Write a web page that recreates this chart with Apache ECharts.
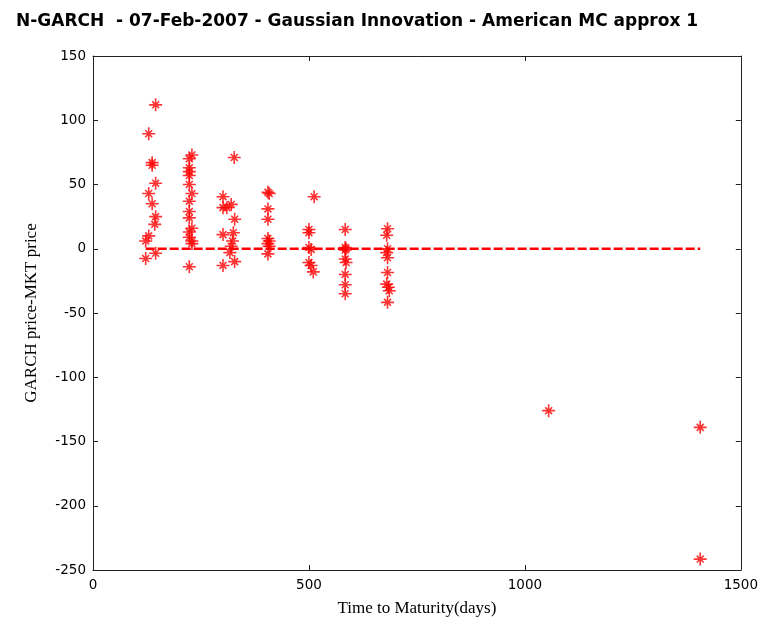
<!DOCTYPE html>
<html><head><meta charset="utf-8">
<script src="https://cdn.jsdelivr.net/npm/echarts@6/dist/echarts.min.js"></script>
<style>html,body{margin:0;padding:0;background:#fff}#c{width:761px;height:622px}</style>
</head><body><div id="c"></div>
<script>
// Time to maturity (days) and GARCH price - MKT price, per maturity cluster
const g1Days = [145,129,137,137,145,129,137,145,143,129,122,122,145];
const g1Vals = [112,89.5,67,65,51,43,35,25,19,10,6,-7.6,-3.5];
const g2Days = [229,223,223,223,223,223,229,223,223,223,229,223,223,229,229,223];
const g2Vals = [73,70,63,60,57,50,43,37,29,24,16,13,9,6,4,-14];
const g3Days = [327,301,301,310,320,328,301,325,323,320,317,328,301];
const g3Vals = [71,40.5,32,32,34.5,23,11,12.5,6,2,-3,-10,-13];
const g4Days = [405,408,405,405,405,408,405,408,405];
const g4Vals = [44,43,31,23,8,6,4,2,-4];
const g5Days = [512,500,500,500,505,500,505,510];
const g5Vals = [40.5,15,12.5,1,-0.5,-10.7,-13,-18];
const g6Days = [584,584,586,584,584,586,584,584,584];
const g6Vals = [15,1,0,-1,-8,-10.7,-20,-28,-35];
const g7Days = [682,680,682,680,682,682,680,684,686,682];
const g7Vals = [15.6,10.5,0,-3,-7,-18.5,-27.5,-30,-32.7,-41.7];
const outDays = [1055,1406,1406];
const outVals = [-126,-139,-241.5];
const zeroLineDays = [122,1406];
const zeroLineVals = [0,0];
const xTicks = {min:0,max:1500,interval:500};
const yTicks = {min:-250,max:150,interval:50};

const allDays = [].concat(g1Days,g2Days,g3Days,g4Days,g5Days,g6Days,g7Days,outDays);
const allVals = [].concat(g1Vals,g2Vals,g3Vals,g4Vals,g5Vals,g6Vals,g7Vals,outVals);
const pts = allDays.map((d,i)=>[d,allVals[i]]);
const linePts = zeroLineDays.map((d,i)=>[d,zeroLineVals[i]]);

const star = 'path://M0,-6L0,6M-6,0L6,0M-3.2,-3.2L3.2,3.2M-3.2,3.2L3.2,-3.2';
const axCol = '#222';
const tickLbl = {color:'#000',fontFamily:'DejaVu Sans',fontSize:13.5,formatter:v=>String(v)};
function xa(pos,show){return {type:'value',position:pos,min:xTicks.min,max:xTicks.max,interval:xTicks.interval,
  axisLine:{show:true,onZero:false,lineStyle:{color:axCol,width:1}},
  axisTick:{show:true,inside:true,length:5,lineStyle:{color:axCol}},
  axisLabel:Object.assign({show:show,margin:8},tickLbl),splitLine:{show:false},
  name:show?'Time to Maturity(days)':'',nameLocation:'middle',nameGap:30,
  nameTextStyle:{fontFamily:'Liberation Serif',fontSize:17,color:'#000'}};}
function ya(pos,show){return {type:'value',position:pos,min:yTicks.min,max:yTicks.max,interval:yTicks.interval,
  axisLine:{show:true,onZero:false,lineStyle:{color:axCol,width:1}},
  axisTick:{show:true,inside:true,length:5,lineStyle:{color:axCol}},
  axisLabel:Object.assign({show:show,margin:7},tickLbl),splitLine:{show:false},
  name:show?'GARCH price-MKT price':'',nameLocation:'middle',nameGap:53,
  nameTextStyle:{fontFamily:'Liberation Serif',fontSize:17,color:'#000'}};}

const chart = echarts.init(document.getElementById('c'),null,{renderer:'canvas'});
chart.setOption({
  animation:false,
  title:{text:'N-GARCH  - 07-Feb-2007 - Gaussian Innovation - American MC approx 1',left:11,top:8,
    textStyle:{fontFamily:'DejaVu Sans',fontWeight:'bold',fontSize:17,color:'#000'}},
  grid:{left:93,right:16,top:56,bottom:50,show:false},
  xAxis:[xa('bottom',true),xa('top',false)],
  yAxis:[ya('left',true),ya('right',false)],
  series:[
    {type:'line',data:linePts,symbol:'none',lineStyle:{color:'#ff0000',width:2.5,type:[9,3]},z:2},
    {type:'scatter',data:pts,symbol:star,symbolSize:13,
     itemStyle:{color:'rgba(0,0,0,0)',borderColor:'#ff0000',borderWidth:1.6},z:3}
  ]
});
</script></body></html>
